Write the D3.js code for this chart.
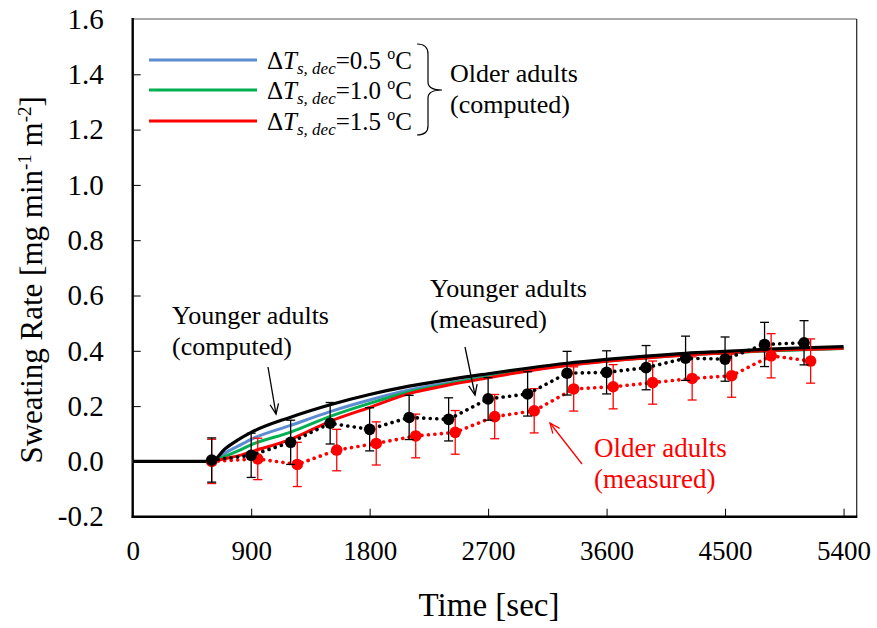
<!DOCTYPE html>
<html>
<head>
<meta charset="utf-8">
<script src="https://cdn.jsdelivr.net/npm/d3@7"></script>
<style>
  body { margin: 0; background: #fff; }
  text { font-family: "Liberation Serif", "Times New Roman", serif; }
</style>
</head>
<body>
<svg id="chart"></svg>
<script>
// measured data (mean +- SD)
const youngTime = [600, 900, 1200, 1500, 1800, 2100, 2400, 2700, 3000, 3300, 3600, 3900, 4200, 4500, 4800, 5100];
const youngRate = [0.005, 0.022, 0.069, 0.138, 0.116, 0.159, 0.152, 0.226, 0.244, 0.319, 0.322, 0.339, 0.373, 0.370, 0.423, 0.429];
const youngErr  = [0.08, 0.08, 0.08, 0.075, 0.078, 0.08, 0.078, 0.077, 0.08, 0.079, 0.078, 0.08, 0.08, 0.08, 0.08, 0.08];

const oldTime = [600, 950, 1250, 1550, 1850, 2150, 2450, 2750, 3050, 3350, 3650, 3950, 4250, 4550, 4850, 5150];
const oldRate = [0.0, 0.009, -0.011, 0.041, 0.065, 0.092, 0.105, 0.162, 0.183, 0.262, 0.270, 0.285, 0.300, 0.310, 0.382, 0.363];
const oldErr  = [0.08, 0.075, 0.08, 0.075, 0.078, 0.079, 0.079, 0.08, 0.08, 0.08, 0.08, 0.078, 0.078, 0.078, 0.08, 0.08];

// computed curves
const youngCompTime = [0, 600, 700, 800, 900, 1200, 1500, 1800, 2100, 2400, 2700, 3000, 3300, 3600, 3900, 4200, 4500, 4800, 5100, 5400];
const youngComp     = [0, 0, 0.045, 0.078, 0.105, 0.16, 0.205, 0.242, 0.272, 0.296, 0.317, 0.337, 0.355, 0.369, 0.381, 0.391, 0.398, 0.405, 0.411, 0.415];

const oldCompTime = [0, 600, 700, 800, 900, 1200, 1500, 1800, 2100, 2400, 2700, 3000, 3300, 3600, 3900, 4200, 4500, 4800, 5100, 5400];
const oldComp05 = [0, 0, 0.03, 0.055, 0.08, 0.13, 0.18, 0.222, 0.258, 0.284, 0.308, 0.331, 0.35, 0.364, 0.376, 0.386, 0.393, 0.4, 0.405, 0.409];
const oldComp10 = [0, 0, 0.018, 0.038, 0.06, 0.106, 0.163, 0.21, 0.251, 0.28, 0.305, 0.329, 0.348, 0.363, 0.375, 0.385, 0.392, 0.399, 0.404, 0.408];
const oldComp15 = [0, 0, 0.01, 0.02, 0.035, 0.08, 0.145, 0.195, 0.245, 0.276, 0.302, 0.327, 0.347, 0.362, 0.374, 0.385, 0.392, 0.4, 0.405, 0.409];

const xTicks = [0, 900, 1800, 2700, 3600, 4500, 5400];
const yTicks = [-0.2, 0, 0.2, 0.4, 0.6, 0.8, 1.0, 1.2, 1.4, 1.6];
const legendValues = ["0.5", "1.0", "1.5"];
const legendColors = ["#5B8BD0", "#00B050", "#FF0000"];

const W = 877, H = 628;
const pLeft = 132.7, pRight = 856.7, pTop = 19, pBottom = 516.7;

const svg = d3.select("#chart").attr("width", W).attr("height", H);
svg.append("rect").attr("width", W).attr("height", H).attr("fill", "#fff");

const x = d3.scaleLinear().domain([0, 5500]).range([pLeft, pRight]);
const y = d3.scaleLinear().domain([-0.2, 1.6]).range([pBottom, pTop]);

// frame (top/right thin)
svg.append("line").attr("x1", pLeft).attr("x2", pRight).attr("y1", pTop).attr("y2", pTop)
  .attr("stroke", "#555").attr("stroke-width", 1.2);
svg.append("line").attr("x1", pRight).attr("x2", pRight).attr("y1", pTop).attr("y2", pBottom)
  .attr("stroke", "#222").attr("stroke-width", 1.2);

// axes with inward ticks
const xAxis = svg.append("g").attr("transform", `translate(0,${pBottom})`)
  .call(d3.axisBottom(x).tickValues(xTicks).tickSize(-8).tickPadding(24).tickFormat(d => d));
xAxis.select(".domain").remove();
xAxis.selectAll(".tick line").attr("stroke", "#000").attr("stroke-width", 1)
  .filter(d => d === 0).remove();
xAxis.selectAll("text").attr("font-size", 27).attr("font-family", "Liberation Serif").attr("fill", "#000");

const yAxis = svg.append("g").attr("transform", `translate(${pLeft},0)`)
  .call(d3.axisLeft(y).tickValues(yTicks).tickSize(-8).tickPadding(29).tickFormat(d => d.toFixed(1)));
yAxis.select(".domain").remove();
yAxis.selectAll(".tick line").attr("stroke", "#000").attr("stroke-width", 1)
  .filter(d => d <= -0.2 || d >= 1.6).remove();
yAxis.selectAll("text").attr("font-size", 29).attr("font-family", "Liberation Serif").attr("fill", "#000");

svg.append("line").attr("x1", pLeft).attr("x2", pLeft).attr("y1", pTop - 1).attr("y2", pBottom + 1.2)
  .attr("stroke", "#000").attr("stroke-width", 2.4);
svg.append("line").attr("x1", pLeft - 1).attr("x2", pRight + 0.6).attr("y1", pBottom).attr("y2", pBottom)
  .attr("stroke", "#000").attr("stroke-width", 2.4);

// axis titles
svg.append("text").attr("x", 489).attr("y", 616).attr("text-anchor", "middle")
  .attr("font-size", 33).text("Time [sec]");
const yt = svg.append("text").attr("transform", `translate(42,${(pTop + pBottom) / 2 + 12}) rotate(-90)`)
  .attr("text-anchor", "middle").attr("font-size", 31);
yt.append("tspan").text("Sweating Rate [mg min");
yt.append("tspan").attr("dy", -11).attr("font-size", 19).text("-1");
yt.append("tspan").attr("dy", 11).text(" m");
yt.append("tspan").attr("dy", -11).attr("font-size", 19).text("-2");
yt.append("tspan").attr("dy", 11).text("]");

// computed curves
const line = (tArr) => d3.line().x((d, i) => x(tArr[i])).y(d => y(d)).curve(d3.curveMonotoneX);
[oldComp05, oldComp10, oldComp15].forEach((s, k) => {
  svg.append("path").attr("d", line(oldCompTime)(s)).attr("fill", "none")
    .attr("stroke", legendColors[k]).attr("stroke-width", 3);
});
svg.append("path").attr("d", line(youngCompTime)(youngComp)).attr("fill", "none")
  .attr("stroke", "#000").attr("stroke-width", 3.2);

// measured series
function measured(tArr, vals, errs, color) {
  const g = svg.append("g");
  g.append("path").attr("d", d3.line().x((d, i) => x(tArr[i])).y(d => y(d))(vals))
    .attr("fill", "none").attr("stroke", color).attr("stroke-width", 3.6)
    .attr("stroke-linecap", "round").attr("stroke-dasharray", "0.1 6.4");
  vals.forEach((v, i) => {
    const cx = x(tArr[i]);
    g.append("line").attr("x1", cx).attr("x2", cx).attr("y1", y(v - errs[i])).attr("y2", y(v + errs[i]))
      .attr("stroke", color).attr("stroke-width", 1.3);
    [v - errs[i], v + errs[i]].forEach(e => {
      g.append("line").attr("x1", cx - 4.5).attr("x2", cx + 4.5).attr("y1", y(e)).attr("y2", y(e))
        .attr("stroke", color).attr("stroke-width", 1.3);
    });
  });
  g.selectAll("circle").data(vals).enter().append("circle")
    .attr("cx", (d, i) => x(tArr[i])).attr("cy", d => y(d)).attr("r", 5.8).attr("fill", color);
}
measured(oldTime, oldRate, oldErr, "#FF0000");
measured(youngTime, youngRate, youngErr, "#000");

// arrows
function arrow(x1, y1, x2, y2, color) {
  svg.append("line").attr("x1", x1).attr("y1", y1).attr("x2", x2).attr("y2", y2)
    .attr("stroke", color).attr("stroke-width", 1.3);
  const a = Math.atan2(y2 - y1, x2 - x1), L = 11, s = 0.4;
  svg.append("path")
    .attr("d", `M${x2 - L * Math.cos(a - s)},${y2 - L * Math.sin(a - s)}L${x2},${y2}L${x2 - L * Math.cos(a + s)},${y2 - L * Math.sin(a + s)}`)
    .attr("fill", "none").attr("stroke", color).attr("stroke-width", 1.3);
}
arrow(268, 367, 276, 414, "#000");
arrow(465, 347, 475, 395, "#000");
arrow(582, 464, 550, 423, "#FF0000");

// annotations
function label(xp, yp, lines, color, fs) {
  lines.forEach((t, i) => {
    svg.append("text").attr("x", xp).attr("y", yp + i * 31).attr("font-size", fs || 26)
      .attr("fill", color).text(t);
  });
}
label(172, 324, ["Younger adults", "(computed)"], "#000");
label(430, 297, ["Younger adults", "(measured)"], "#000");
label(594, 457, ["Older adults", "(measured)"], "#FF0000", 27);

// legend
const legY = [60, 90, 121];
legendValues.forEach((v, k) => {
  svg.append("line").attr("x1", 149).attr("x2", 257).attr("y1", legY[k]).attr("y2", legY[k])
    .attr("stroke", legendColors[k]).attr("stroke-width", 3.2);
  const t = svg.append("text").attr("x", 267).attr("y", legY[k] + 9).attr("font-size", 25);
  t.append("tspan").text("\u0394");
  t.append("tspan").attr("font-style", "italic").text("T");
  t.append("tspan").attr("font-style", "italic").attr("font-size", 17).attr("dy", 5).text("s, dec");
  t.append("tspan").attr("dy", -5).text("=" + v + " ");
  t.append("tspan").attr("font-size", 16).attr("dy", -10).text("o");
  t.append("tspan").attr("dy", 10).text("C");
});
svg.append("path").attr("d", "M417,44 Q428,44 428,54 L428,82 Q428,90 442,90 Q428,90 428,98 L428,126 Q428,135 417,135")
  .attr("fill", "none").attr("stroke", "#000").attr("stroke-width", 1.2);
label(450, 82, ["Older adults", "(computed)"], "#000");
</script>
</body>
</html>
